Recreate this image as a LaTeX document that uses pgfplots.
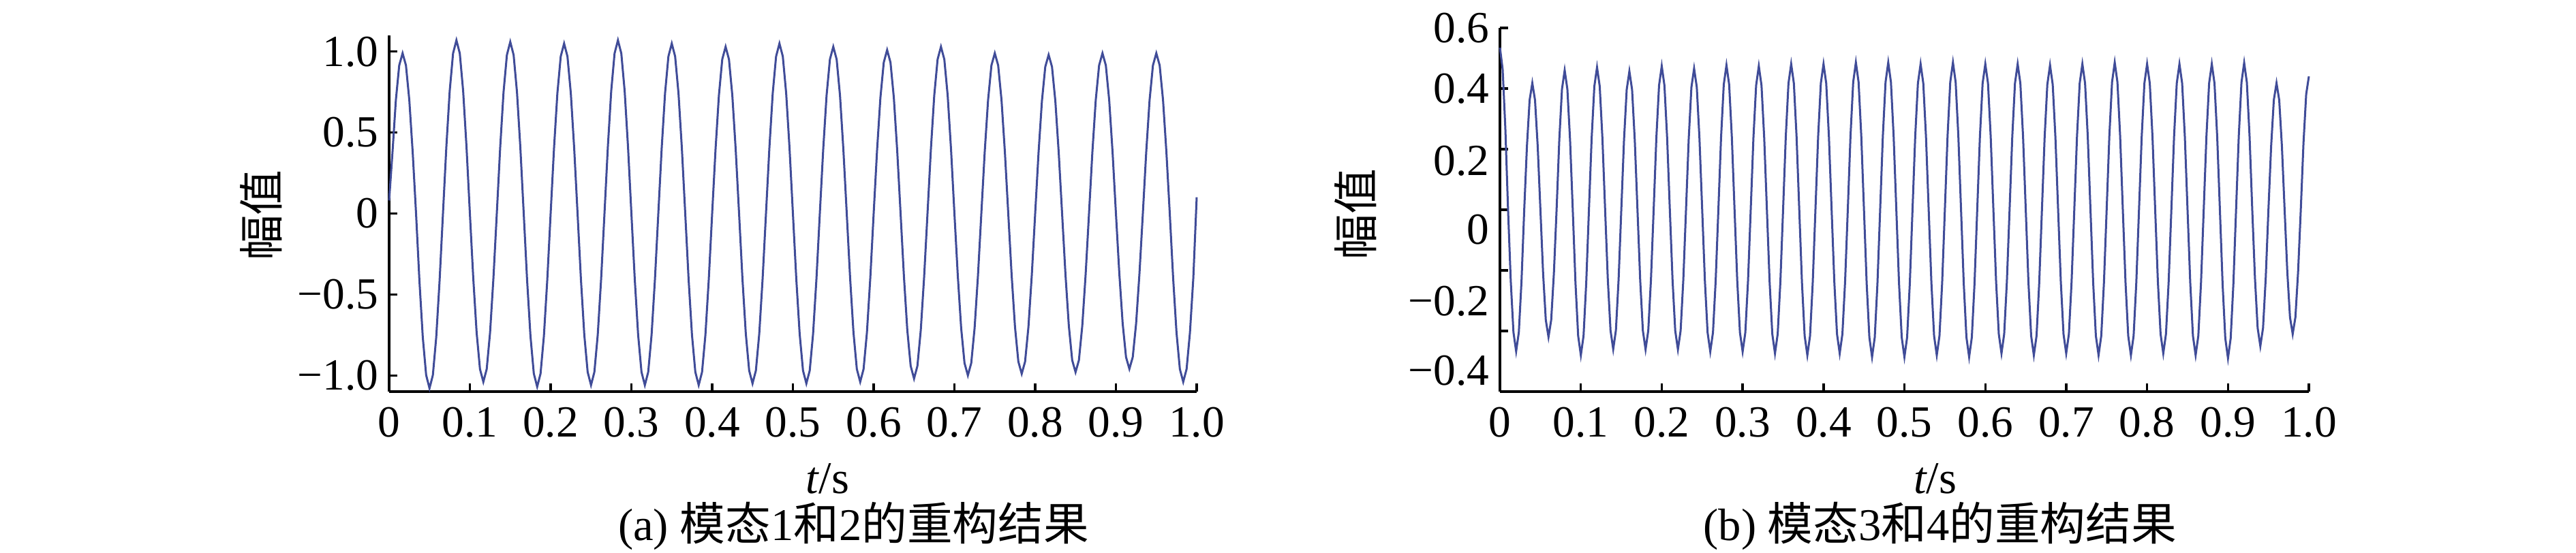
\documentclass[border=0pt]{standalone}
\usepackage{pgfplots}
\pgfplotsset{compat=1.18}
\usepackage{pgfplotstable}
\usepackage{fontspec}
\setmainfont{Liberation Serif}
\newfontfamily\cjk{Noto Sans CJK SC}
\definecolor{wave}{RGB}{64,76,152}

% sample index n, 240 samples per second (mode 1+2)
\pgfplotstableread[row sep=\\]{
n y\\
0 0.08\\ 1 0.379\\ 2 0.700\\ 3 0.915\\ 4 0.99\\ 5 0.915\\ 6 0.700\\ 7 0.379\\ 8 0\\ 9 -0.414\\ 10 -0.764\\ 11 -0.998\\ 12 -1.08\\ 13 -0.998\\ 14 -0.764\\ 15 -0.414\\
16 0\\ 17 0.410\\ 18 0.756\\ 19 0.989\\ 20 1.07\\ 21 0.989\\ 22 0.756\\ 23 0.410\\ 24 0\\ 25 -0.398\\ 26 -0.735\\ 27 -0.961\\ 28 -1.04\\ 29 -0.961\\ 30 -0.735\\ 31 -0.398\\
32 0\\ 33 0.406\\ 34 0.749\\ 35 0.979\\ 36 1.06\\ 37 0.979\\ 38 0.749\\ 39 0.406\\ 40 0\\ 41 -0.410\\ 42 -0.756\\ 43 -0.989\\ 44 -1.07\\ 45 -0.989\\ 46 -0.756\\ 47 -0.410\\
48 0\\ 49 0.402\\ 50 0.742\\ 51 0.970\\ 52 1.05\\ 53 0.970\\ 54 0.742\\ 55 0.402\\ 56 0\\ 57 -0.406\\ 58 -0.749\\ 59 -0.979\\ 60 -1.06\\ 61 -0.979\\ 62 -0.749\\ 63 -0.406\\
64 0\\ 65 0.410\\ 66 0.756\\ 67 0.989\\ 68 1.07\\ 69 0.989\\ 70 0.756\\ 71 0.410\\ 72 0\\ 73 -0.406\\ 74 -0.749\\ 75 -0.979\\ 76 -1.06\\ 77 -0.979\\ 78 -0.749\\ 79 -0.406\\
80 0\\ 81 0.402\\ 82 0.742\\ 83 0.970\\ 84 1.05\\ 85 0.970\\ 86 0.742\\ 87 0.402\\ 88 0\\ 89 -0.406\\ 90 -0.749\\ 91 -0.979\\ 92 -1.06\\ 93 -0.979\\ 94 -0.749\\ 95 -0.406\\
96 0\\ 97 0.394\\ 98 0.728\\ 99 0.952\\ 100 1.03\\ 101 0.952\\ 102 0.728\\ 103 0.394\\ 104 0\\ 105 -0.402\\ 106 -0.742\\ 107 -0.970\\ 108 -1.05\\ 109 -0.970\\ 110 -0.742\\ 111 -0.402\\
112 0\\ 113 0.402\\ 114 0.742\\ 115 0.970\\ 116 1.05\\ 117 0.970\\ 118 0.742\\ 119 0.402\\ 120 0\\ 121 -0.402\\ 122 -0.742\\ 123 -0.970\\ 124 -1.05\\ 125 -0.970\\ 126 -0.742\\ 127 -0.402\\
128 0\\ 129 0.394\\ 130 0.728\\ 131 0.952\\ 132 1.03\\ 133 0.952\\ 134 0.728\\ 135 0.394\\ 136 0\\ 137 -0.398\\ 138 -0.735\\ 139 -0.961\\ 140 -1.04\\ 141 -0.961\\ 142 -0.735\\ 143 -0.398\\
144 0\\ 145 0.387\\ 146 0.714\\ 147 0.933\\ 148 1.01\\ 149 0.933\\ 150 0.714\\ 151 0.387\\ 152 0\\ 153 -0.391\\ 154 -0.721\\ 155 -0.942\\ 156 -1.02\\ 157 -0.942\\ 158 -0.721\\ 159 -0.391\\
160 0\\ 161 0.394\\ 162 0.728\\ 163 0.952\\ 164 1.03\\ 165 0.952\\ 166 0.728\\ 167 0.394\\ 168 0\\ 169 -0.383\\ 170 -0.707\\ 171 -0.924\\ 172 -1.00\\ 173 -0.924\\ 174 -0.707\\ 175 -0.383\\
176 0\\ 177 0.379\\ 178 0.700\\ 179 0.915\\ 180 0.99\\ 181 0.915\\ 182 0.700\\ 183 0.379\\ 184 0\\ 185 -0.379\\ 186 -0.700\\ 187 -0.915\\ 188 -0.99\\ 189 -0.915\\ 190 -0.700\\ 191 -0.379\\
192 0\\ 193 0.375\\ 194 0.693\\ 195 0.906\\ 196 0.98\\ 197 0.906\\ 198 0.693\\ 199 0.375\\ 200 0\\ 201 -0.375\\ 202 -0.693\\ 203 -0.906\\ 204 -0.98\\ 205 -0.906\\ 206 -0.693\\ 207 -0.375\\
208 0\\ 209 0.379\\ 210 0.700\\ 211 0.915\\ 212 0.99\\ 213 0.915\\ 214 0.700\\ 215 0.379\\ 216 0\\ 217 -0.368\\ 218 -0.679\\ 219 -0.887\\ 220 -0.96\\ 221 -0.887\\ 222 -0.679\\ 223 -0.368\\
224 0\\ 225 0.379\\ 226 0.700\\ 227 0.915\\ 228 0.99\\ 229 0.915\\ 230 0.700\\ 231 0.379\\ 232 0\\ 233 -0.398\\ 234 -0.735\\ 235 -0.961\\ 236 -1.04\\ 237 -0.961\\ 238 -0.735\\ 239 -0.398\\
240 0.1\\
}\modeA

% sample index n, 300 samples per second (mode 3+4)
\pgfplotstableread[row sep=\\]{
n y\\
0 0.535\\ 1 0.463\\ 2 0.268\\ 3 0\\ 4 -0.234\\ 5 -0.404\\ 6 -0.467\\ 7 -0.404\\ 8 -0.234\\ 9 0\\ 10 0.209\\ 11 0.362\\
12 0.418\\ 13 0.362\\ 14 0.209\\ 15 0\\ 16 -0.21\\ 17 -0.364\\ 18 -0.42\\ 19 -0.364\\ 20 -0.21\\ 21 0\\ 22 0.23\\ 23 0.398\\
24 0.46\\ 25 0.398\\ 26 0.23\\ 27 0\\ 28 -0.24\\ 29 -0.416\\ 30 -0.48\\ 31 -0.416\\ 32 -0.24\\ 33 0\\ 34 0.235\\ 35 0.407\\
36 0.47\\ 37 0.407\\ 38 0.235\\ 39 0\\ 40 -0.23\\ 41 -0.398\\ 42 -0.46\\ 43 -0.398\\ 44 -0.23\\ 45 0\\ 46 0.229\\ 47 0.396\\
48 0.457\\ 49 0.396\\ 50 0.229\\ 51 0\\ 52 -0.231\\ 53 -0.399\\ 54 -0.461\\ 55 -0.399\\ 56 -0.231\\ 57 0\\ 58 0.237\\ 59 0.41\\
60 0.474\\ 61 0.41\\ 62 0.237\\ 63 0\\ 64 -0.231\\ 65 -0.399\\ 66 -0.461\\ 67 -0.399\\ 68 -0.231\\ 69 0\\ 70 0.233\\ 71 0.404\\
72 0.466\\ 73 0.404\\ 74 0.233\\ 75 0\\ 76 -0.234\\ 77 -0.405\\ 78 -0.468\\ 79 -0.405\\ 80 -0.234\\ 81 0\\ 82 0.239\\ 83 0.413\\
84 0.477\\ 85 0.413\\ 86 0.239\\ 87 0\\ 88 -0.234\\ 89 -0.405\\ 90 -0.468\\ 91 -0.405\\ 92 -0.234\\ 93 0\\ 94 0.237\\ 95 0.41\\
96 0.474\\ 97 0.41\\ 98 0.237\\ 99 0\\ 100 -0.237\\ 101 -0.41\\ 102 -0.474\\ 103 -0.41\\ 104 -0.237\\ 105 0\\ 106 0.241\\ 107 0.417\\
108 0.481\\ 109 0.417\\ 110 0.241\\ 111 0\\ 112 -0.24\\ 113 -0.416\\ 114 -0.48\\ 115 -0.416\\ 116 -0.24\\ 117 0\\ 118 0.241\\ 119 0.417\\
120 0.481\\ 121 0.417\\ 122 0.241\\ 123 0\\ 124 -0.237\\ 125 -0.41\\ 126 -0.474\\ 127 -0.41\\ 128 -0.237\\ 129 0\\ 130 0.243\\ 131 0.421\\
132 0.486\\ 133 0.421\\ 134 0.243\\ 135 0\\ 136 -0.243\\ 137 -0.421\\ 138 -0.486\\ 139 -0.421\\ 140 -0.243\\ 141 0\\ 142 0.243\\ 143 0.421\\
144 0.486\\ 145 0.421\\ 146 0.243\\ 147 0\\ 148 -0.243\\ 149 -0.421\\ 150 -0.486\\ 151 -0.421\\ 152 -0.243\\ 153 0\\ 154 0.241\\ 155 0.417\\
156 0.481\\ 157 0.417\\ 158 0.241\\ 159 0\\ 160 -0.24\\ 161 -0.416\\ 162 -0.48\\ 163 -0.416\\ 164 -0.24\\ 165 0\\ 166 0.243\\ 167 0.421\\
168 0.486\\ 169 0.421\\ 170 0.243\\ 171 0\\ 172 -0.243\\ 173 -0.421\\ 174 -0.486\\ 175 -0.421\\ 176 -0.243\\ 177 0\\ 178 0.241\\ 179 0.417\\
180 0.481\\ 181 0.417\\ 182 0.241\\ 183 0\\ 184 -0.237\\ 185 -0.41\\ 186 -0.474\\ 187 -0.41\\ 188 -0.237\\ 189 0\\ 190 0.241\\ 191 0.417\\
192 0.481\\ 193 0.417\\ 194 0.241\\ 195 0\\ 196 -0.24\\ 197 -0.416\\ 198 -0.48\\ 199 -0.416\\ 200 -0.24\\ 201 0\\ 202 0.239\\ 203 0.413\\
204 0.477\\ 205 0.413\\ 206 0.239\\ 207 0\\ 208 -0.237\\ 209 -0.41\\ 210 -0.474\\ 211 -0.41\\ 212 -0.237\\ 213 0\\ 214 0.241\\ 215 0.417\\
216 0.481\\ 217 0.417\\ 218 0.241\\ 219 0\\ 220 -0.24\\ 221 -0.416\\ 222 -0.48\\ 223 -0.416\\ 224 -0.24\\ 225 0\\ 226 0.243\\ 227 0.421\\
228 0.486\\ 229 0.421\\ 230 0.243\\ 231 0\\ 232 -0.24\\ 233 -0.416\\ 234 -0.48\\ 235 -0.416\\ 236 -0.24\\ 237 0\\ 238 0.241\\ 239 0.417\\
240 0.481\\ 241 0.417\\ 242 0.241\\ 243 0\\ 244 -0.237\\ 245 -0.41\\ 246 -0.474\\ 247 -0.41\\ 248 -0.237\\ 249 0\\ 250 0.241\\ 251 0.417\\
252 0.481\\ 253 0.417\\ 254 0.241\\ 255 0\\ 256 -0.24\\ 257 -0.416\\ 258 -0.48\\ 259 -0.416\\ 260 -0.24\\ 261 0\\ 262 0.241\\ 263 0.417\\
264 0.481\\ 265 0.417\\ 266 0.241\\ 267 0\\ 268 -0.245\\ 269 -0.424\\ 270 -0.49\\ 271 -0.424\\ 272 -0.245\\ 273 0\\ 274 0.243\\ 275 0.42\\
276 0.485\\ 277 0.42\\ 278 0.243\\ 279 0\\ 280 -0.225\\ 281 -0.39\\ 282 -0.45\\ 283 -0.39\\ 284 -0.225\\ 285 0\\ 286 0.209\\ 287 0.362\\
288 0.418\\ 289 0.362\\ 290 0.209\\ 291 0\\ 292 -0.205\\ 293 -0.355\\ 294 -0.41\\ 295 -0.355\\ 296 -0.205\\ 297 0\\ 298 0.22\\ 299 0.381\\
300 0.44\\
}\modeB

\pgfplotsset{
  recon/.style={
    scale only axis,
    axis lines=left,
    axis line style={-, line width=0.5pt, black},
    tick align=inside,
    major tick length=1.8pt,
    tick style={black, line width=0.5pt},
    tick label style={font=\fontsize{9.8}{11}\selectfont},
    yticklabel style={inner xsep=2.2pt},
    label style={font=\fontsize{10}{12}\selectfont},
    xlabel={{\itshape t}/s},
    ylabel={\cjk 幅值},
    clip=false,
  },
}

\begin{document}
\begin{tikzpicture}
\useasboundingbox (0,0) rectangle (567pt,121.8pt);

\begin{axis}[recon,
  at={(85.65pt,35.55pt)}, anchor=south west,
  width=177.75pt, height=78.45pt,
  xmin=0, xmax=240, ymin=-1.1, ymax=1.1,
  xtick={0,24,...,240},
  xticklabels={0,0.1,0.2,0.3,0.4,0.5,0.6,0.7,0.8,0.9,1.0},
  ytick={-1,-0.5,0,0.5,1},
  yticklabels={−1.0,−0.5,0,0.5,1.0},
  xlabel style={at={(axis description cs:0.543,0)}, anchor=center, yshift=-19.2pt},
  ylabel style={at={([xshift=-28.2pt]axis description cs:0,0.495)}, anchor=center},
]
  \addplot[wave, line width=0.45pt] table[x=n, y=y] {\modeA};
  \node[font=\fontsize{10}{12}\selectfont, anchor=center, yshift=-29.55pt]
    at (axis description cs:0.575,0) {(a) {\cjk 模态}1{\cjk 和}2{\cjk 的重构结果}};
\end{axis}

\begin{axis}[recon,
  at={(330.15pt,35.55pt)}, anchor=south west,
  width=178.05pt, height=80.1pt,
  xmin=0, xmax=300, ymin=-0.6, ymax=0.6,
  xtick={0,30,...,300},
  xticklabels={0,0.1,0.2,0.3,0.4,0.5,0.6,0.7,0.8,0.9,1.0},
  ytick={-0.6,-0.4,-0.2,0,0.2,0.4,0.6},
  yticklabels={,,,,,,},
  extra y ticks={0.6,0.4,0.162,-0.065,-0.301,-0.53},
  extra y tick labels={0.6,0.4,0.2,0,−0.2,−0.4},
  extra y tick style={major tick length=0pt},
  xlabel style={at={(axis description cs:0.538,0)}, anchor=center, yshift=-19.2pt},
  ylabel style={at={([xshift=-31.8pt]axis description cs:0,0.487)}, anchor=center},
]
  \addplot[wave, line width=0.45pt] table[x=n, y=y] {\modeB};
  \node[font=\fontsize{10}{12}\selectfont, anchor=center, yshift=-29.55pt]
    at (axis description cs:0.544,0) {(b) {\cjk 模态}3{\cjk 和}4{\cjk 的重构结果}};
\end{axis}
\end{tikzpicture}
\end{document}
